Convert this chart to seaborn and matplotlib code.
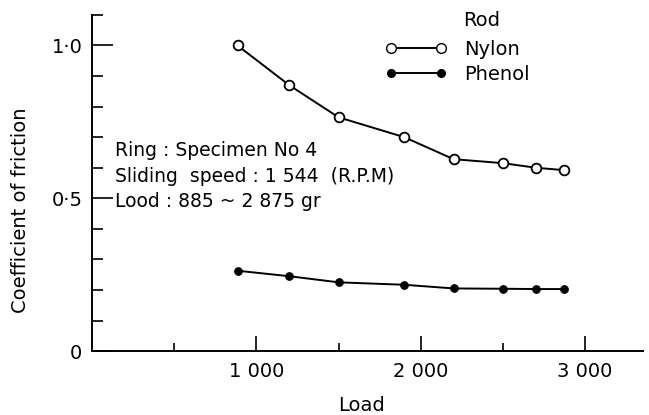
import matplotlib
matplotlib.use("Agg")
import matplotlib.pyplot as plt
import seaborn as sns
import pandas as pd
from matplotlib.ticker import MultipleLocator, FixedLocator

# values
load = [885, 1200, 1500, 1900, 2200, 2500, 2700, 2875]
nylon = [1.0, 0.87, 0.765, 0.70, 0.628, 0.615, 0.60, 0.592]
phenol = [0.263, 0.245, 0.225, 0.217, 0.205, 0.204, 0.203, 0.203]
rods = ["Nylon", "Phenol"]

df = pd.DataFrame({
    "Load": load * 2,
    "mu": nylon + phenol,
    "Rod": [rods[0]] * len(load) + [rods[1]] * len(load),
})

sns.set_style("ticks", {"text.color": "black", "axes.labelcolor": "black",
                        "xtick.color": "black", "ytick.color": "black",
                        "axes.edgecolor": "black"})
plt.rcParams["font.family"] = ["DejaVu Sans"]

fig = plt.figure(figsize=(6.49, 4.15), dpi=100)
ax = fig.add_axes([0.142, 0.154, 0.848, 0.81])

sns.lineplot(data=df, x="Load", y="mu", hue="Rod", style="Rod",
             palette={"Nylon": "black", "Phenol": "black"},
             markers={"Nylon": "o", "Phenol": "o"}, dashes=False,
             markersize=7, linewidth=1.4, ax=ax, legend=False)
# open circles for nylon, filled for phenol
lines = ax.get_lines()
lines[0].set_markerfacecolor("white")
lines[0].set_markeredgecolor("black")
lines[0].set_markeredgewidth(1.3)
lines[1].set_markerfacecolor("black")
lines[1].set_markeredgecolor("black")
lines[1].set_markersize(5.5)

ax.set_xlim(0, 3350)
ax.set_ylim(0, 1.1)
sns.despine(ax=ax)
for s in ["left", "bottom"]:
    ax.spines[s].set_linewidth(1.4)

ax.xaxis.set_major_locator(FixedLocator([1000, 2000, 3000]))
ax.xaxis.set_minor_locator(FixedLocator([500, 1500, 2500]))
ax.set_xticklabels(["1 000", "2 000", "3 000"])
ax.yaxis.set_major_locator(FixedLocator([0, 0.5, 1.0]))
ax.yaxis.set_minor_locator(MultipleLocator(0.1))
ax.set_yticklabels(["0", "0·5", "1·0"])
ax.tick_params(axis="y", which="major", direction="in", length=15, width=1.2,
               labelsize=14, pad=7, left=True)
ax.tick_params(axis="y", which="minor", direction="in", length=8, width=1.2,
               left=True)
ax.tick_params(axis="x", which="major", direction="in", length=11, width=1.2,
               labelsize=14, pad=8, bottom=True)
ax.tick_params(axis="x", which="minor", direction="in", length=6, width=1.2,
               bottom=True)

ax.set_xlabel("Load", fontsize=14)
ax.set_ylabel("Coefficient of friction", fontsize=14)
ax.xaxis.set_label_coords(0.49, -0.135)
ax.yaxis.set_label_coords(-0.113, 0.42)

info = ["Ring : Specimen No 4", "Sliding  speed : 1 544  (R.P.M)",
        "Lood : 885 ~ 2 875 gr"]
for i, t in enumerate(info):
    ax.text(140, 0.655 - i * 0.083, t, fontsize=13.5, va="center", ha="left")

# legend
h1, = ax.plot([], [], color="black", lw=1.4, marker="o", mfc="white",
              mec="black", ms=7)
h2, = ax.plot([], [], color="black", lw=1.4, marker="o", mfc="black",
              mec="black", ms=5.5)
leg = ax.legend([h1, h2], rods, loc="upper left",
                bbox_to_anchor=(0.5, 0.978), frameon=False, fontsize=14,
                handlelength=3.2, numpoints=2, labelspacing=0.3,
                handletextpad=0.9)
ax.text(0.708, 0.982, "Rod", transform=ax.transAxes, fontsize=14,
        ha="center", va="center")

fig.savefig("out.png", dpi=100)
